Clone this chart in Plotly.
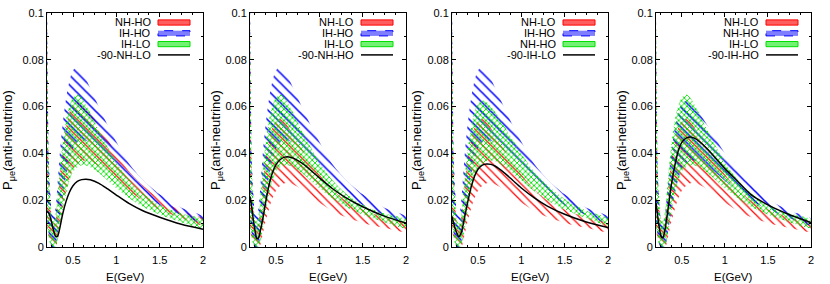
import plotly.graph_objects as go

# ---------------- data ----------------
E = [0.2, 0.22, 0.24, 0.26, 0.28, 0.30, 0.32, 0.35, 0.38, 0.42, 0.46, 0.50,
     0.55, 0.60, 0.65, 0.70, 0.80, 0.90, 1.00, 1.15, 1.30, 1.50, 1.75, 2.00]

NH_LO_lo = [0.008, 0.003, 0.001, 0.0, 0.0, 0.0, 0.001, 0.006, 0.011, 0.0165, 0.0208, 0.0240,
            0.0262, 0.0272, 0.0273, 0.0267, 0.0246, 0.0218, 0.0190, 0.0154, 0.0128, 0.0103, 0.0082, 0.0066]
NH_LO_hi = [0.10, 0.030, 0.016, 0.010, 0.009, 0.011, 0.017, 0.028, 0.037, 0.046, 0.0512, 0.0540,
            0.0548, 0.0535, 0.0508, 0.0478, 0.0418, 0.0360, 0.0310, 0.0246, 0.0200, 0.0160, 0.0126, 0.0102]
NH_HO_lo = [0.010, 0.004, 0.001, 0.0, 0.0, 0.0, 0.002, 0.009, 0.0155, 0.0235, 0.0293, 0.0333,
            0.0356, 0.0367, 0.0370, 0.0366, 0.0345, 0.0315, 0.0283, 0.0238, 0.0200, 0.0160, 0.0123, 0.0094]
NH_HO_hi = [0.10, 0.033, 0.018, 0.011, 0.010, 0.012, 0.019, 0.031, 0.041, 0.051, 0.0578, 0.0612,
            0.0625, 0.0620, 0.0600, 0.0575, 0.0518, 0.0458, 0.0400, 0.0322, 0.0265, 0.0205, 0.0155, 0.0122]
IH_LO_lo = [0.009, 0.004, 0.001, 0.0, 0.0, 0.0, 0.002, 0.009, 0.0155, 0.0228, 0.0283, 0.0320,
            0.0341, 0.0349, 0.0348, 0.0341, 0.0316, 0.0284, 0.0251, 0.0208, 0.0173, 0.0139, 0.0106, 0.0082]
IH_LO_hi = [0.10, 0.035, 0.019, 0.012, 0.011, 0.014, 0.021, 0.034, 0.044, 0.0545, 0.0605, 0.0640,
            0.0652, 0.0637, 0.0607, 0.0572, 0.0497, 0.0427, 0.0362, 0.0286, 0.0231, 0.0180, 0.0143, 0.0117]
IH_HO_lo = [0.012, 0.006, 0.002, 0.0, 0.0, 0.001, 0.005, 0.013, 0.021, 0.0305, 0.0375, 0.0420,
            0.0448, 0.0457, 0.0454, 0.0444, 0.0413, 0.0373, 0.0332, 0.0277, 0.0226, 0.0180, 0.0137, 0.0104]
IH_HO_hi = [0.11, 0.040, 0.022, 0.014, 0.013, 0.017, 0.026, 0.041, 0.052, 0.0635, 0.0710, 0.0755,
            0.0770, 0.0752, 0.0718, 0.0678, 0.0598, 0.0520, 0.0450, 0.0355, 0.0290, 0.0225, 0.0168, 0.0130]

M90_NH_LO = [0.0152, 0.0145, 0.0125, 0.0095, 0.0065, 0.0045, 0.0045, 0.0085, 0.0140, 0.0195, 0.0235, 0.0262,
             0.0280, 0.0288, 0.0290, 0.0287, 0.0272, 0.0248, 0.0222, 0.0185, 0.0156, 0.0127, 0.0097, 0.0076]
M90_NH_HO = [0.0216, 0.0170, 0.0110, 0.0065, 0.0035, 0.0040, 0.0070, 0.0125, 0.0190, 0.0265, 0.0318, 0.0352,
             0.0374, 0.0384, 0.0385, 0.0380, 0.0358, 0.0328, 0.0296, 0.0250, 0.0212, 0.0172, 0.0132, 0.0102]
M90_IH_LO = [0.0130, 0.0100, 0.0075, 0.0055, 0.0045, 0.0055, 0.0080, 0.0135, 0.0190, 0.0255, 0.0302, 0.0332,
             0.0350, 0.0355, 0.0353, 0.0345, 0.0318, 0.0285, 0.0252, 0.0210, 0.0175, 0.0140, 0.0107, 0.0083]
M90_IH_HO = [0.0190, 0.0130, 0.0080, 0.0045, 0.0040, 0.0065, 0.0110, 0.0190, 0.0270, 0.0350, 0.0412, 0.0447,
             0.0465, 0.0470, 0.0464, 0.0452, 0.0418, 0.0376, 0.0335, 0.0280, 0.0225, 0.0180, 0.0138, 0.0105]

XTICKS = [0.5, 1, 1.5, 2]
XTICKTEXT = ["0.5", "1", "1.5", "2"]
YTICKS = [0, 0.02, 0.04, 0.06, 0.08, 0.1]
YTICKTEXT = ["0", "0.02", "0.04", "0.06", "0.08", "0.1"]

BANDS = {
    "NH-LO": (NH_LO_lo, NH_LO_hi),
    "NH-HO": (NH_HO_lo, NH_HO_hi),
    "IH-LO": (IH_LO_lo, IH_LO_hi),
    "IH-HO": (IH_HO_lo, IH_HO_hi),
}
LINES = {
    "-90-NH-LO": M90_NH_LO,
    "-90-NH-HO": M90_NH_HO,
    "-90-IH-LO": M90_IH_LO,
    "-90-IH-HO": M90_IH_HO,
}
PANELS = [
    (["NH-HO", "IH-HO", "IH-LO"], "-90-NH-LO"),
    (["NH-LO", "IH-HO", "IH-LO"], "-90-NH-HO"),
    (["NH-LO", "IH-HO", "NH-HO"], "-90-IH-LO"),
    (["NH-LO", "NH-HO", "IH-LO"], "-90-IH-HO"),
]

# ---------------- styling ----------------
W, H = 830, 284
PX = [(47, 203), (250, 406), (452, 608), (656, 811)]
YTOP, YBOT = 13, 247
YTITLE_X = [8, 216, 417, 622]
FONT = "Liberation Sans, Arial, Helvetica, sans-serif"

STYLES = [
    dict(color="#ff0000", shape="\\", size=6, solidity=0.2, swfill="rgba(255,40,40,0.75)", dash="solid"),
    dict(color="#0000ff", shape="\\", size=7, solidity=0.22, swfill="rgba(40,40,255,0.6)", dash="dash"),
    dict(color="#00e000", shape="x", size=4, solidity=0.4, swfill="rgba(0,230,0,0.55)", dash="solid"),
]

fig = go.Figure()
annotations = []
shapes = []

def px2x(p):
    return p / W

def py2y(p):
    return 1 - p / H

for i, (bands, line_key) in enumerate(PANELS):
    xa = "x" if i == 0 else f"x{i+1}"
    ya = "y" if i == 0 else f"y{i+1}"
    for j, key in enumerate(bands):
        lo, hi = BANDS[key]
        st = STYLES[j]
        fig.add_trace(go.Scatter(
            x=E + E[::-1], y=hi + lo[::-1],
            mode="lines", fill="toself",
            line=dict(width=0, shape="spline", smoothing=0.8, color=st["color"]),
            fillcolor="rgba(0,0,0,0)",
            fillpattern=dict(shape=st["shape"], fgcolor=st["color"], bgcolor="rgba(0,0,0,0)",
                             fgopacity=1, size=st["size"], solidity=st["solidity"],
                             fillmode="overlay"),
            xaxis=xa, yaxis=ya, showlegend=False, hoverinfo="skip",
        ))
    fig.add_trace(go.Scatter(
        x=E, y=LINES[line_key], mode="lines",
        line=dict(color="black", width=1.5, shape="spline", smoothing=0.8),
        xaxis=xa, yaxis=ya, showlegend=False, hoverinfo="skip",
    ))

    x0, x1 = PX[i]
    axis_common = dict(showline=True, linecolor="black", linewidth=1, mirror="ticks",
                       ticks="inside", ticklen=4, tickcolor="black", showgrid=False,
                       zeroline=False, automargin=False,
                       tickfont=dict(family=FONT, size=11, color="black"))
    fig.layout[("xaxis" if i == 0 else f"xaxis{i+1}")] = dict(
        domain=[px2x(x0), px2x(x1)], range=[0.2, 2], anchor=ya,
        tickvals=XTICKS, ticktext=XTICKTEXT, ticklabelstandoff=3,
        minor=dict(tick0=0, dtick=0.125, ticks="inside", ticklen=2, tickcolor="black"),
        **axis_common)
    fig.layout[("yaxis" if i == 0 else f"yaxis{i+1}")] = dict(
        domain=[py2y(YBOT), py2y(YTOP)], range=[0, 0.1], anchor=xa,
        tickvals=YTICKS, ticktext=YTICKTEXT,
        minor=dict(tick0=0, dtick=0.01, ticks="inside", ticklen=2, tickcolor="black"),
        **axis_common)

    # axis titles
    annotations.append(dict(text="E(GeV)", xref="paper", yref="paper",
                            x=px2x((x0 + x1) / 2), y=py2y(277), xanchor="center", yanchor="middle",
                            showarrow=False, font=dict(family=FONT, size=11.5, color="black")))
    annotations.append(dict(text="P<sub>μe</sub>(anti-neutrino)", xref="paper", yref="paper",
                            x=px2x(YTITLE_X[i]), y=py2y(140), xanchor="center", yanchor="middle",
                            textangle=-90, showarrow=False,
                            font=dict(family=FONT, size=13, color="black")))

    # legend (text left, sample right, like gnuplot)
    rows = [22.5, 33.3, 44.1, 54.9]
    labels = bands + [line_key]
    for r, lab in enumerate(labels):
        annotations.append(dict(text=lab, xref="paper", yref="paper",
                                x=px2x(x1 - 51), y=py2y(rows[r]), xanchor="right", yanchor="middle",
                                showarrow=False, borderpad=0,
                                font=dict(family=FONT, size=11, color="black")))
        if r < 3:
            st = STYLES[r]
            shapes.append(dict(type="rect", xref="paper", yref="paper",
                               x0=px2x(x1 - 45), x1=px2x(x1 - 13),
                               y0=py2y(rows[r] + 2.6), y1=py2y(rows[r] - 2.6),
                               line=dict(color=st["color"], width=1, dash=st["dash"]),
                               fillcolor=st["swfill"]))
        else:
            shapes.append(dict(type="line", xref="paper", yref="paper",
                               x0=px2x(x1 - 45), x1=px2x(x1 - 13),
                               y0=py2y(rows[r]), y1=py2y(rows[r]),
                               line=dict(color="black", width=1.5)))

fig.update_layout(width=W, height=H, margin=dict(l=0, r=0, t=0, b=0),
                  paper_bgcolor="white", plot_bgcolor="white",
                  annotations=annotations, shapes=shapes, showlegend=False)

# remove the browser's default 8px page margin so the figure sits at the window's corner
fig.write_html("out.html",
               config={"displayModeBar": False, "staticPlot": True},
               post_script="document.body.style.margin='0';document.body.style.overflow='hidden';")
